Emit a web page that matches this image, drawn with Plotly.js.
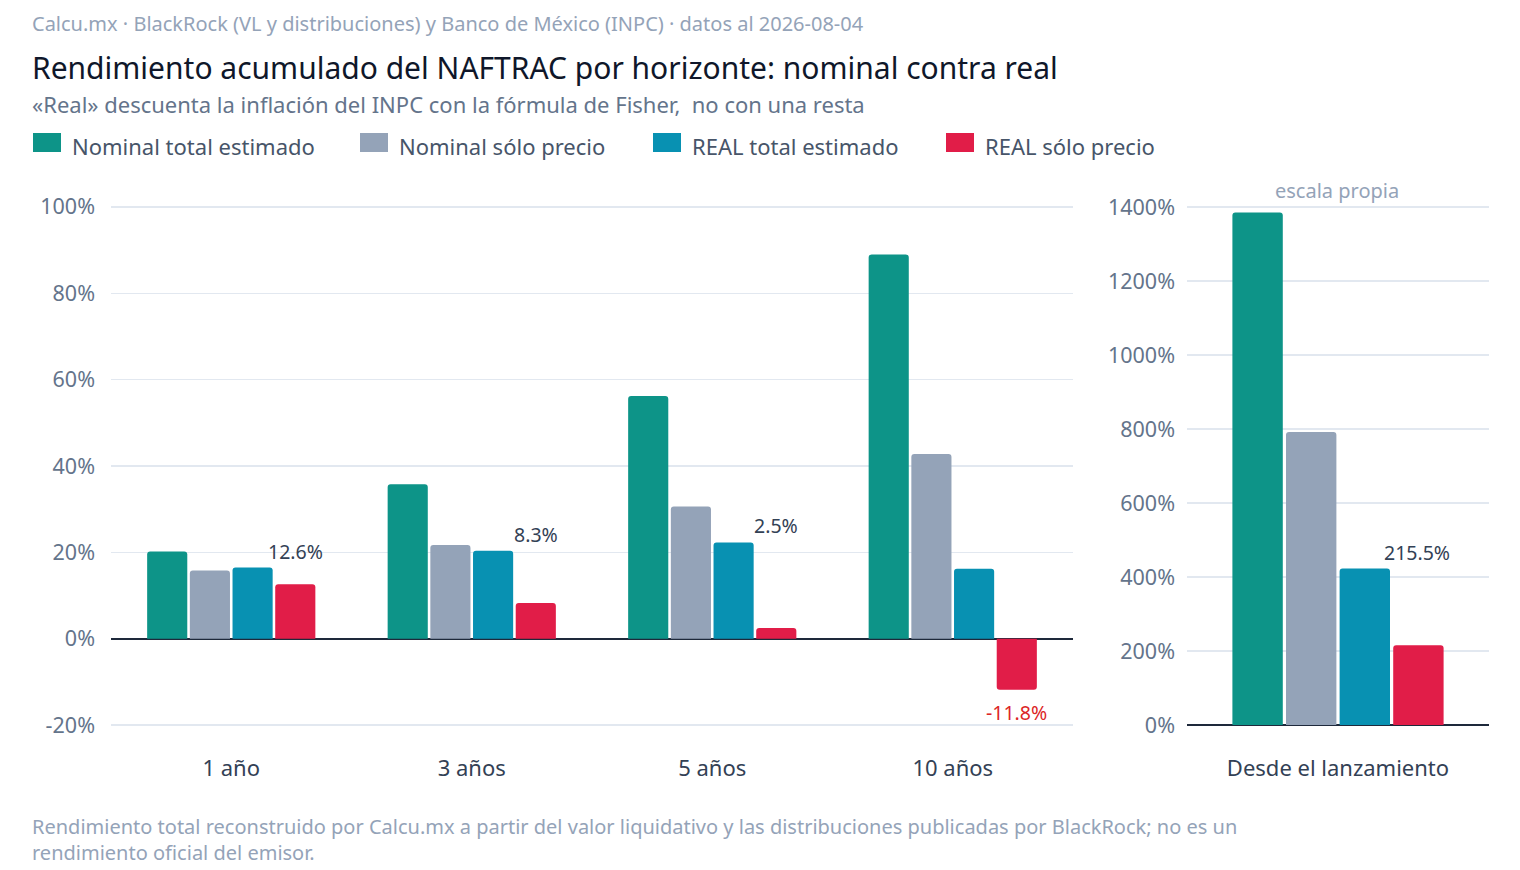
<!DOCTYPE html>
<html>
<head>
<meta charset="utf-8">
<script src="https://cdn.plot.ly/plotly-3.0.1.min.js"></script>
<style>
  body { margin: 0; background: #fff; }
  #chart { width: 1520px; height: 870px; }
</style>
</head>
<body>
<div id="chart"></div>
<script>
// Horizons on the left panel, launch on its own scale on the right
const HORIZONS = ["1 año", "3 años", "5 años", "10 años"];
const LAUNCH = ["Desde el lanzamiento"];

const NOMINAL_TOTAL = [20.2, 35.8, 56.2, 89.0];
const NOMINAL_PRICE = [15.8, 21.7, 30.6, 42.8];
const REAL_TOTAL = [16.5, 20.4, 22.3, 16.2];
const REAL_PRICE = [12.6, 8.3, 2.5, -11.8];

const LAUNCH_NOMINAL_TOTAL = [1385];
const LAUNCH_NOMINAL_PRICE = [792];
const LAUNCH_REAL_TOTAL = [423];
const LAUNCH_REAL_PRICE = [215.5];

// tick labels (plain hyphen for negatives, like the source)
const LEFT_TICKS = [-20, 0, 20, 40, 60, 80, 100];
const LEFT_TICK_TEXT = ["-20%", "0%", "20%", "40%", "60%", "80%", "100%"];
const RIGHT_TICKS = [0, 200, 400, 600, 800, 1000, 1200, 1400];
const RIGHT_TICK_TEXT = ["0%", "200%", "400%", "600%", "800%", "1000%", "1200%", "1400%"];

const FONT = "'Noto Sans', 'Open Sans', sans-serif";
const INK = "#1e293b";
const MUTED = "#64748b";
const FAINT = "#94a3b8";
const GRID = "#e2e8f0";

const SERIES = [
  { name: "Nominal total estimado", color: "#0d9488", left: NOMINAL_TOTAL, right: LAUNCH_NOMINAL_TOTAL },
  { name: "Nominal sólo precio", color: "#94a3b8", left: NOMINAL_PRICE, right: LAUNCH_NOMINAL_PRICE },
  { name: "REAL total estimado", color: "#0891b2", left: REAL_TOTAL, right: LAUNCH_REAL_TOTAL },
  { name: "REAL sólo precio", color: "#e11d48", left: REAL_PRICE, right: LAUNCH_REAL_PRICE },
];

// plot area in pixels, used to place the free text and legend
const W = 1520, H = 870;
const M = { l: 111, r: 31, t: 200, b: 125 };
const PW = W - M.l - M.r, PH = H - M.t - M.b;
const px = (x) => (x - M.l) / PW;
const py = (y) => (H - M.b - y) / PH;

const traces = [];
for (const s of SERIES) {
  traces.push({
    type: "bar", x: HORIZONS, y: s.left, name: s.name, showlegend: false,
    marker: { color: s.color }, xaxis: "x", yaxis: "y", hoverinfo: "skip",
  });
  traces.push({
    type: "bar", x: LAUNCH, y: s.right, name: s.name, showlegend: false,
    marker: { color: s.color }, xaxis: "x2", yaxis: "y2", hoverinfo: "skip",
  });
}

// value labels over the "REAL sólo precio" bar of each group
const annotations = [];
function realLabel(xref, yref, cat, total, price, shift) {
  const neg = price < 0;
  annotations.push({
    xref: xref, yref: yref, x: cat, y: neg ? price : Math.max(total, price),
    text: price.toFixed(1) + "%", showarrow: false,
    xshift: shift, yshift: neg ? -7 : 1,
    yanchor: neg ? "top" : "bottom",
    font: { family: FONT, size: 19.5, color: neg ? "#dc2626" : "#334155" },
  });
}
HORIZONS.forEach((h, i) => realLabel("x", "y", h, REAL_TOTAL[i], REAL_PRICE[i], 64));
realLabel("x2", "y2", LAUNCH[0], LAUNCH_REAL_TOTAL[0], LAUNCH_REAL_PRICE[0], 79);

function text(t, x, y, size, color, extra) {
  annotations.push(Object.assign({
    xref: "paper", yref: "paper", x: px(x), y: py(y), text: t, showarrow: false,
    xanchor: "left", yanchor: "middle", align: "left", borderpad: 0,
    font: { family: FONT, size: size, color: color },
  }, extra || {}));
}
text("Calcu.mx · BlackRock (VL y distribuciones) y Banco de México (INPC) · datos al 2026-08-04", 31, 23, 20, FAINT);
text("Rendimiento acumulado del NAFTRAC por horizonte: nominal contra real", 31, 67, 30, "#0f172a");
text("«Real» descuenta la inflación del INPC con la fórmula de Fisher,  no con una resta", 31, 104, 22, MUTED);
text("escala propia", 1337, 190, 20, FAINT, { xanchor: "center" });
text("Rendimiento total reconstruido por Calcu.mx a partir del valor liquidativo y las distribuciones publicadas por BlackRock; no es un<br>rendimiento oficial del emisor.",
  31, 839, 20, FAINT);

// legend: wide swatch + label per series
const LEGEND_X = [33, 360, 653, 946];
const shapes = [];
SERIES.forEach((s, i) => {
  const x0 = LEGEND_X[i];
  shapes.push({
    type: "rect", xref: "paper", yref: "paper",
    x0: px(x0), x1: px(x0 + 28), y0: py(152), y1: py(133),
    fillcolor: s.color, line: { width: 0 },
  });
  text(s.name, x0 + 38, 146, 22, "#475569");
});

const yCommon = {
  tickmode: "array", gridcolor: GRID, gridwidth: 1.5, showline: false, ticks: "",
  zeroline: true, zerolinecolor: INK, zerolinewidth: 2.5,
  tickfont: { family: FONT, size: 21.5, color: MUTED }, fixedrange: true,
};
const xCommon = {
  showline: false, ticks: "", showgrid: false, ticklabelstandoff: 8,
  tickfont: { family: FONT, size: 22, color: "#334155" }, fixedrange: true,
};

const layout = {
  width: W, height: H, margin: M,
  paper_bgcolor: "#fff", plot_bgcolor: "#fff",
  font: { family: FONT, color: INK },
  barmode: "group", bargap: 0.29, bargroupgap: 0.06, barcornerradius: 3,
  showlegend: false,
  xaxis: Object.assign({ domain: [0, px(1073)], anchor: "y" }, xCommon),
  yaxis: Object.assign({
    range: [-24.6, 101.6], tickvals: LEFT_TICKS, ticktext: LEFT_TICK_TEXT,
    anchor: "x", ticklabelstandoff: 15,
  }, yCommon),
  xaxis2: Object.assign({ domain: [px(1187), 1], anchor: "y2" }, xCommon),
  yaxis2: Object.assign({
    range: [-54, 1419], tickvals: RIGHT_TICKS, ticktext: RIGHT_TICK_TEXT,
    anchor: "x2", ticklabelstandoff: 11,
  }, yCommon),
  annotations: annotations,
  shapes: shapes,
};

Plotly.newPlot("chart", traces, layout, { displayModeBar: false, staticPlot: true });
</script>
</body>
</html>
